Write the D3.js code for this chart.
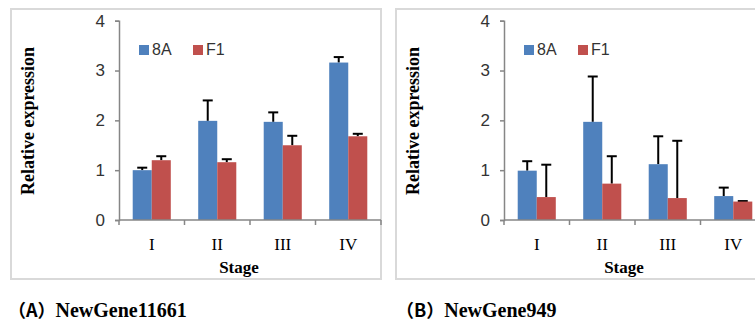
<!DOCTYPE html>
<html>
<head>
<meta charset="utf-8">
<script src="https://cdn.jsdelivr.net/npm/d3@7"></script>
<style>
  body { margin: 0; background: #fff; }
  svg { display: block; }
</style>
</head>
<body>
<svg id="chart" width="755" height="321"></svg>
<script>
// data
var stages = ["I", "II", "III", "IV"];
var series = ["8A", "F1"];
var colors = ["#4F81BD", "#C0504D"];
var yTicks = [0, 1, 2, 3, 4];

var geneA_8A = [1.00, 1.99, 1.97, 3.16];
var geneA_8A_err = [0.05, 0.41, 0.19, 0.11];
var geneA_F1 = [1.20, 1.16, 1.50, 1.68];
var geneA_F1_err = [0.08, 0.06, 0.19, 0.05];

var geneB_8A = [0.99, 1.97, 1.12, 0.48];
var geneB_8A_err = [0.19, 0.91, 0.56, 0.17];
var geneB_F1 = [0.46, 0.73, 0.44, 0.37];
var geneB_F1_err = [0.65, 0.55, 1.15, 0.01];

var captions = ["（A）", "NewGene11661", "（B）", "NewGene949"];

var svg = d3.select("#chart");

function drawPanel(boxX, boxW, axisX, v8A, e8A, vF1, eF1) {
    var g = svg.append("g");

    g.append("rect")
        .attr("x", boxX).attr("y", 9)
        .attr("width", boxW).attr("height", 270)
        .attr("fill", "#fff")
        .attr("stroke", "#d9d9d9")
        .attr("stroke-width", 2);

    var y = d3.scaleLinear().domain([0, 4]).range([220, 20.7]);
    var x = d3.scaleBand().domain(stages).range([axisX, axisX + 262]);
    var xs = d3.scaleBand().domain(series).range([0, x.bandwidth()])
        .paddingInner(0).paddingOuter(0.72);

    var flat = [];
    stages.forEach(function (s, i) {
        flat.push({ stage: s, key: "8A", v: v8A[i], e: e8A[i], c: colors[0] });
        flat.push({ stage: s, key: "F1", v: vF1[i], e: eF1[i], c: colors[1] });
    });

    // upper error bars only
    var err = g.selectAll(".err").data(flat).enter().append("g");
    err.append("line")
        .attr("x1", d => x(d.stage) + xs(d.key) + xs.bandwidth() / 2)
        .attr("x2", d => x(d.stage) + xs(d.key) + xs.bandwidth() / 2)
        .attr("y1", d => y(d.v))
        .attr("y2", d => y(d.v + d.e))
        .attr("stroke", "#000").attr("stroke-width", 2);
    err.append("line")
        .attr("x1", d => x(d.stage) + xs(d.key) + xs.bandwidth() / 2 - 5)
        .attr("x2", d => x(d.stage) + xs(d.key) + xs.bandwidth() / 2 + 5)
        .attr("y1", d => y(d.v + d.e))
        .attr("y2", d => y(d.v + d.e))
        .attr("stroke", "#000").attr("stroke-width", 2);

    g.selectAll(".bar").data(flat).enter().append("rect")
        .attr("x", d => x(d.stage) + xs(d.key))
        .attr("y", d => y(d.v))
        .attr("width", xs.bandwidth())
        .attr("height", d => y(0) - y(d.v))
        .attr("fill", d => d.c);

    // y axis
    var yAxis = d3.axisLeft(y).tickValues(yTicks).tickFormat(d3.format("d"))
        .tickSize(4).tickPadding(10);
    var ya = g.append("g").attr("transform", "translate(" + axisX + ",0)").call(yAxis);
    ya.select(".domain").attr("stroke", "#868686").attr("stroke-width", 1.5);
    ya.selectAll(".tick line").attr("stroke", "#868686").attr("stroke-width", 1.5);
    ya.selectAll(".tick text")
        .attr("font-family", "'Liberation Sans', Arial, sans-serif")
        .attr("font-size", 17).attr("fill", "#333");

    // x axis
    var xa = g.append("g").attr("transform", "translate(0," + y(0) + ")");
    xa.append("line")
        .attr("x1", axisX).attr("x2", axisX + 262)
        .attr("stroke", "#868686").attr("stroke-width", 1.5);
    xa.selectAll(".xt").data(stages.concat(["end"])).enter().append("line")
        .attr("x1", (d, i) => axisX + i * x.step())
        .attr("x2", (d, i) => axisX + i * x.step())
        .attr("y1", 0).attr("y2", 5)
        .attr("stroke", "#868686").attr("stroke-width", 1.5);
    xa.selectAll(".xl").data(stages).enter().append("text")
        .attr("x", d => x(d) + x.bandwidth() / 2)
        .attr("y", 30)
        .attr("text-anchor", "middle")
        .attr("font-family", "'Liberation Serif', 'Times New Roman', serif")
        .attr("font-size", 17)
        .text(d => d);

    g.append("text")
        .attr("x", axisX + 120).attr("y", 273)
        .attr("text-anchor", "middle")
        .attr("font-family", "'Liberation Serif', 'Times New Roman', serif")
        .attr("font-weight", "bold")
        .attr("font-size", 17)
        .text("Stage");

    g.append("text")
        .attr("transform", "translate(" + (boxX + 23) + ",121) rotate(-90)")
        .attr("text-anchor", "middle")
        .attr("font-family", "'Liberation Serif', 'Times New Roman', serif")
        .attr("font-weight", "bold")
        .attr("font-size", 18)
        .text("Relative expression");

    // legend
    var leg = g.selectAll(".leg").data(series).enter().append("g")
        .attr("transform", (d, i) => "translate(" + (axisX + 20 + i * 54) + ",45)");
    leg.append("rect").attr("width", 10).attr("height", 10)
        .attr("fill", (d, i) => colors[i]);
    leg.append("text")
        .attr("x", 13).attr("y", 10)
        .attr("font-family", "'Liberation Sans', Arial, sans-serif")
        .attr("font-size", 16).attr("fill", "#333")
        .text(d => d);
}

drawPanel(11, 370, 119, geneA_8A, geneA_8A_err, geneA_F1, geneA_F1_err);
drawPanel(396, 370, 504, geneB_8A, geneB_8A_err, geneB_F1, geneB_F1_err);

// captions
function caption(xPos, paren, name) {
    var t = svg.append("text")
        .attr("x", xPos).attr("y", 317)
        .attr("font-weight", "bold")
        .attr("font-size", 20);
    t.append("tspan")
        .attr("font-family", "'Noto Sans CJK SC', sans-serif")
        .attr("font-size", 18)
        .text(paren);
    t.append("tspan")
        .attr("font-family", "'Liberation Serif', 'Times New Roman', serif")
        .text(name);
}
caption(8, captions[0], captions[1]);
caption(396, captions[2], captions[3]);
</script>
</body>
</html>
